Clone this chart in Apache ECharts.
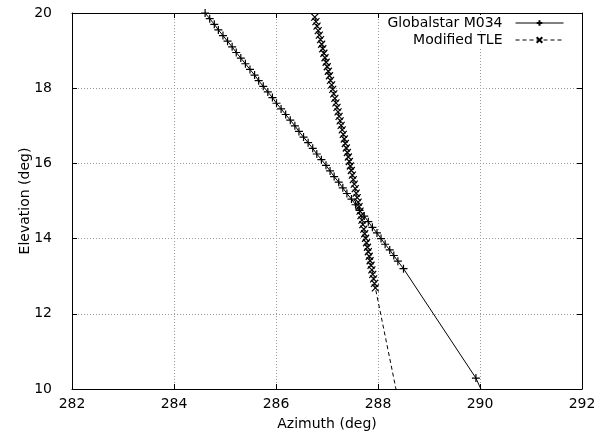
<!DOCTYPE html>
<html>
<head>
<meta charset="utf-8">
<script src="https://cdn.jsdelivr.net/npm/echarts@6/dist/echarts.min.js"></script>
<style>
  html, body { margin: 0; padding: 0; background: #fff; }
  #chart { width: 604px; height: 432px; }
</style>
</head>
<body>
<div id="chart"></div>
<script>
// Globalstar M034 track (azimuth, elevation)
const gsAz = [
  284.61, 284.70, 284.79, 284.87, 284.96, 285.05, 285.14, 285.22, 285.31, 285.40,
  285.49, 285.58, 285.66, 285.75, 285.84, 285.93, 286.01, 286.10, 286.19, 286.28,
  286.37, 286.45, 286.54, 286.63, 286.72, 286.80, 286.89, 286.98, 287.06, 287.14,
  287.23, 287.31, 287.39, 287.48, 287.56, 287.64, 287.73, 287.81, 287.89, 287.98,
  288.06, 288.14, 288.23, 288.31, 288.39, 288.50, 289.92, 290.10
];
const gsEl = [
  20.00, 19.85, 19.70, 19.55, 19.40, 19.25, 19.10, 18.95, 18.80, 18.65,
  18.50, 18.35, 18.20, 18.05, 17.90, 17.75, 17.60, 17.45, 17.30, 17.15,
  17.00, 16.85, 16.70, 16.55, 16.40, 16.25, 16.10, 15.95, 15.80, 15.65,
  15.50, 15.35, 15.20, 15.05, 14.90, 14.75, 14.60, 14.45, 14.30, 14.15,
  14.00, 13.85, 13.70, 13.55, 13.40, 13.20, 10.29, 9.75
];

// Modified TLE track
const tleAz = [
  286.760, 286.783, 286.805, 286.828, 286.850, 286.873, 286.895, 286.917, 286.939, 286.961,
  286.983, 287.005, 287.026, 287.048, 287.069, 287.091, 287.112, 287.133, 287.154, 287.175,
  287.196, 287.217, 287.237, 287.258, 287.278, 287.299, 287.319, 287.339, 287.359, 287.379,
  287.399, 287.419, 287.438, 287.458, 287.477, 287.497, 287.516, 287.535, 287.554, 287.573,
  287.592, 287.611, 287.629, 287.648, 287.666, 287.685, 287.703, 287.721, 287.739, 287.757,
  287.775, 287.793, 287.810, 287.828, 287.845, 287.863, 287.880, 287.897, 287.914, 287.931,
  287.948, 288.390
];
const tleEl = [
  19.89, 19.77, 19.65, 19.53, 19.41, 19.29, 19.17, 19.05, 18.93, 18.81,
  18.69, 18.57, 18.45, 18.33, 18.21, 18.09, 17.97, 17.85, 17.73, 17.61,
  17.49, 17.37, 17.25, 17.13, 17.01, 16.89, 16.77, 16.65, 16.53, 16.41,
  16.29, 16.17, 16.05, 15.93, 15.81, 15.69, 15.57, 15.45, 15.33, 15.21,
  15.09, 14.97, 14.85, 14.73, 14.61, 14.49, 14.37, 14.25, 14.13, 14.01,
  13.89, 13.77, 13.65, 13.53, 13.41, 13.29, 13.17, 13.05, 12.93, 12.81,
  12.69, 9.75
];

const seriesNames = ['Globalstar M034', 'Modified TLE'];

const FONT = 'DejaVu Sans, Liberation Sans, sans-serif';
const FS = 14;
const plusPath = 'path://M5,0L5,10M0,5L10,5';
const crossPath = 'path://M0,0L10,10M10,0L0,10';

const chart = echarts.init(document.getElementById('chart'));

const gridLine = { show: true, lineStyle: { color: '#9a9a9a', type: [1, 2], width: 1 } };
const frameLine = { show: true, onZero: false, lineStyle: { color: '#000', width: 1 } };
const tick = { show: true, inside: true, length: 5, lineStyle: { color: '#000' } };
const labelText = { fontFamily: FONT, fontSize: FS, color: '#000' };

const legendBase = {
  orient: 'vertical',
  right: 36,
  align: 'right',
  itemWidth: 48,
  itemHeight: 7,
  itemGap: 4,
  padding: [1, 4, 1, 4],
  backgroundColor: '#fff',
  lineStyle: { width: 1 },
  textStyle: Object.assign({ padding: [0, 8, 0, 0] }, labelText),
};

const opts = {
  animation: false,
  backgroundColor: '#fff',
  textStyle: { fontFamily: FONT },
  grid: { left: 72, right: 22, top: 13, bottom: 43, containLabel: false, outerBoundsMode: 'none' },
  legend: [
    Object.assign({}, legendBase, { top: 15, data: [seriesNames[0]] }),
    Object.assign({}, legendBase, { top: 32, data: [seriesNames[1]] }),
  ],
  xAxis: [
    {
      type: 'value', min: 282, max: 292, interval: 2, position: 'bottom',
      name: 'Azimuth (deg)', nameLocation: 'middle', nameGap: 28, nameMoveOverlap: false,
      nameTextStyle: labelText,
      axisLine: frameLine, axisTick: tick, splitLine: gridLine,
      axisLabel: Object.assign({ margin: 8 }, labelText),
    },
    {
      type: 'value', min: 282, max: 292, interval: 2, position: 'top',
      axisLine: frameLine, axisTick: tick, splitLine: { show: false },
      axisLabel: { show: false },
    },
  ],
  yAxis: [
    {
      type: 'value', min: 10, max: 20, interval: 2, position: 'left',
      name: 'Elevation (deg)', nameLocation: 'middle', nameGap: 40, nameMoveOverlap: false,
      nameTextStyle: labelText,
      axisLine: frameLine, axisTick: tick, splitLine: gridLine,
      axisLabel: Object.assign({ margin: 20 }, labelText),
    },
    {
      type: 'value', min: 10, max: 20, interval: 2, position: 'right',
      axisLine: frameLine, axisTick: tick, splitLine: { show: false },
      axisLabel: { show: false },
    },
  ],
  series: [
    {
      name: seriesNames[0],
      type: 'line',
      data: gsAz.map((az, i) => [az, gsEl[i]]),
      clip: true,
      symbol: plusPath,
      symbolSize: 8,
      showAllSymbol: true,
      itemStyle: { color: 'transparent', borderColor: '#000', borderWidth: 1.2 },
      lineStyle: { color: '#000', width: 1, type: 'solid' },
      z: 3,
    },
    {
      name: seriesNames[1],
      type: 'line',
      data: tleAz.map((az, i) => [az, tleEl[i]]),
      clip: true,
      symbol: crossPath,
      symbolSize: 7,
      showAllSymbol: true,
      itemStyle: { color: 'transparent', borderColor: '#000', borderWidth: 1.2 },
      lineStyle: { color: '#000', width: 1, type: [4, 3] },
      z: 3,
    },
  ],
};

chart.setOption(opts);
</script>
</body>
</html>
